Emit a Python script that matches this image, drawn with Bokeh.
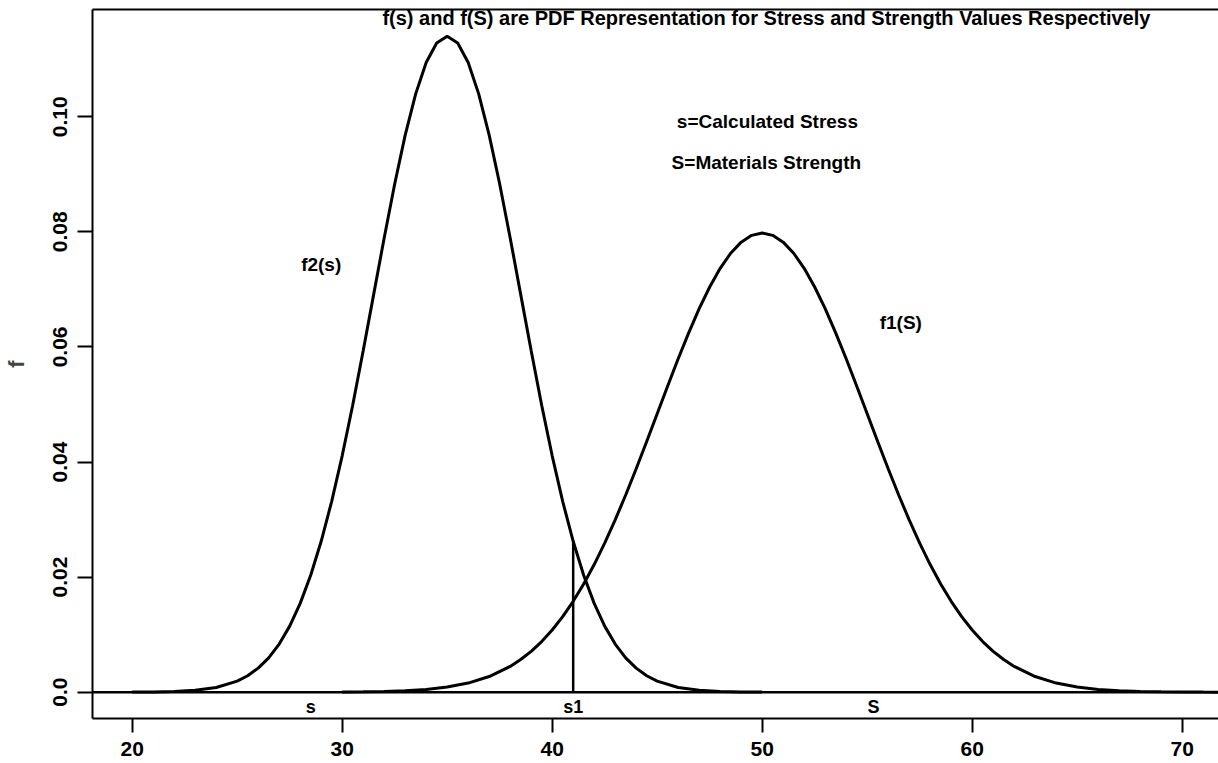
from bokeh.plotting import figure
from bokeh.models import FixedTicker, LinearAxis, Span, Label, Range1d
from bokeh.embed import file_html
from bokeh.resources import INLINE

# ---- data ----
# f2(s): stress PDF (peak ~0.114 at s=35)
stress_x = [20, 21, 22, 23, 24, 25, 25.5, 26, 26.5, 27, 27.5, 28, 28.5, 29, 29.5,
            30, 30.5, 31, 31.5, 32, 32.5, 33, 33.5, 34, 34.5, 35, 35.5, 36, 36.5,
            37, 37.5, 38, 38.5, 39, 39.5, 40, 40.5, 41, 41.5, 42, 42.5, 43, 43.5,
            44, 44.5, 45, 46, 47, 48, 49, 50]
stress_f = [0.00001, 0.00004, 0.00012, 0.00032, 0.00082, 0.00192, 0.00286, 0.00418,
            0.00597, 0.00836, 0.01148, 0.01543, 0.02032, 0.02622, 0.03316, 0.04108,
            0.04987, 0.05932, 0.06913, 0.07894, 0.08831, 0.09681, 0.10398, 0.10942,
            0.11282, 0.11398, 0.11282, 0.10942, 0.10398, 0.09681, 0.08831, 0.07894,
            0.06913, 0.05932, 0.04987, 0.04108, 0.03316, 0.02622, 0.02032, 0.01543,
            0.01148, 0.00836, 0.00597, 0.00418, 0.00286, 0.00192, 0.00082, 0.00032,
            0.00012, 0.00004, 0.00001]

# f1(S): strength PDF (peak ~0.080 at S=50)
strength_x = [30, 31, 32, 33, 34, 35, 36, 37, 38, 38.5, 39, 39.5, 40, 40.5, 41, 41.5,
              42, 42.5, 43, 43.5, 44, 44.5, 45, 45.5, 46, 46.5, 47, 47.5, 48, 48.5,
              49, 49.5, 50, 50.5, 51, 51.5, 52, 52.5, 53, 53.5, 54, 54.5, 55, 55.5,
              56, 56.5, 57, 57.5, 58, 58.5, 59, 59.5, 60, 60.5, 61, 61.5, 62, 63, 64,
              65, 66, 67, 68, 69, 70, 71, 72]
strength_f = [0.00003, 0.00006, 0.00012, 0.00025, 0.00048, 0.00089, 0.00158, 0.00272,
              0.00448, 0.00567, 0.00710, 0.00880, 0.01080, 0.01312, 0.01579, 0.01881,
              0.02218, 0.02590, 0.02995, 0.03427, 0.03884, 0.04357, 0.04840, 0.05322,
              0.05794, 0.06245, 0.06665, 0.07041, 0.07366, 0.07628, 0.07821, 0.07939,
              0.07979, 0.07939, 0.07821, 0.07628, 0.07366, 0.07041, 0.06665, 0.06245,
              0.05794, 0.05322, 0.04840, 0.04357, 0.03884, 0.03427, 0.02995, 0.02590,
              0.02218, 0.01881, 0.01579, 0.01312, 0.01080, 0.00880, 0.00710, 0.00567,
              0.00448, 0.00272, 0.00158, 0.00089, 0.00048, 0.00025, 0.00012, 0.00006,
              0.00003, 0.00001, 0.00000]

# s1 marker (vertical line up to f2(s1))
s1_x = [41]
s1_top = [0.0262]

x_ticks = [20, 30, 40, 50, 60, 70]
y_ticks = [0.0, 0.02, 0.04, 0.06, 0.08, 0.10]
y_tick_labels = {0.0: "0.0", 0.02: "0.02", 0.04: "0.04", 0.06: "0.06", 0.08: "0.08", 0.10: "0.10"}

baseline_labels = ["s", "s1", "S"]
baseline_x = [28.5, 41.0, 55.3]

title_text = "f(s) and f(S) are PDF Representation for Stress and Strength Values Respectively"
curve_labels = ["f2(s)", "f1(S)"]
note_labels = ["s=Calculated Stress", "S=Materials Strength"]

FONT = "Liberation Sans"

p = figure(width=1218, height=763, output_backend="svg", toolbar_location=None,
           x_range=Range1d(18.11, 71.73), y_range=Range1d(-0.004574, 0.11864),
           min_border_left=92, min_border_right=0, min_border_top=9, min_border_bottom=45)
p.outline_line_color = None
p.background_fill_color = "white"
p.border_fill_color = "white"
p.xgrid.visible = False
p.ygrid.visible = False

for ax in (p.xaxis[0], p.yaxis[0]):
    ax.axis_line_width = 2
    ax.axis_line_color = "black"
    ax.major_tick_line_width = 2
    ax.major_tick_line_color = "black"
    ax.major_tick_in = 0
    ax.minor_tick_line_color = None
    ax.major_label_text_font = FONT
    ax.major_label_text_font_style = "bold"
    ax.major_label_text_font_size = "21px"
    ax.major_label_text_color = "black"

p.xaxis[0].ticker = FixedTicker(ticks=x_ticks)
p.xaxis[0].major_tick_out = 14
p.xaxis[0].major_label_standoff = 9

p.yaxis[0].ticker = FixedTicker(ticks=y_ticks)
p.yaxis[0].major_label_overrides = y_tick_labels
p.yaxis[0].major_tick_out = 15
p.yaxis[0].major_label_standoff = 10
p.yaxis[0].major_label_orientation = "vertical"
p.yaxis[0].axis_label = "f"
p.yaxis[0].axis_label_text_font = FONT
p.yaxis[0].axis_label_text_font_style = "bold"
p.yaxis[0].axis_label_text_font_size = "22px"
p.yaxis[0].axis_label_standoff = 22

top_axis = LinearAxis(ticker=FixedTicker(ticks=[]), axis_line_width=2, axis_line_color="black",
                      major_tick_line_color=None, minor_tick_line_color=None)
p.add_layout(top_axis, "above")

p.add_layout(Span(location=0, dimension="width", line_color="black", line_width=2.5))

p.line(stress_x, stress_f, line_color="black", line_width=3)
p.line(strength_x, strength_f, line_color="black", line_width=3)
p.segment(x0=s1_x, y0=[0], x1=s1_x, y1=s1_top, line_color="black", line_width=2.5)

def lab(x, y, t, size):
    p.add_layout(Label(x=x, y=y, text=t, text_align="center", text_baseline="middle",
                       text_font=FONT, text_font_style="bold", text_font_size=size,
                       text_color="black"))

lab(50.2, 0.1172, title_text, "20px")
lab(29.0, 0.0744, curve_labels[0], "19px")
lab(56.6, 0.0643, curve_labels[1], "19px")
lab(50.25, 0.0991, note_labels[0], "19px")
lab(50.2, 0.0921, note_labels[1], "19px")
for t, xv in zip(baseline_labels, baseline_x):
    lab(xv, -0.00266, t, "18px")

open("out.html", "w").write(file_html(p, INLINE))
